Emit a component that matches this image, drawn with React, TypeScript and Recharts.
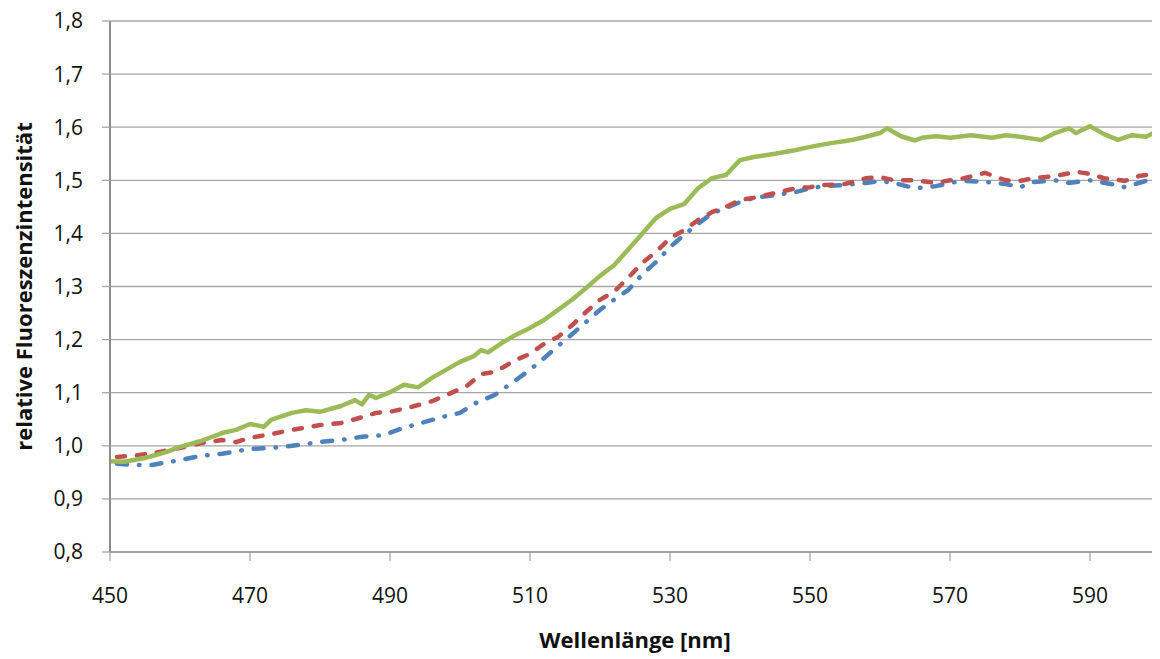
import { LineChart, Line, XAxis, YAxis, CartesianGrid } from 'recharts'

// Wellenlänge [nm] / relative Fluoreszenzintensität
const greenX = [450, 452, 455, 458, 460, 463, 466, 468, 470, 472, 473, 476, 478, 480, 483, 485, 486, 487, 488, 490, 492, 494, 496, 498, 500, 502, 503, 504, 506, 508, 510, 512, 514, 516, 518, 520, 522, 524, 526, 528, 530, 532, 534, 536, 538, 540, 542, 545, 548, 550, 553, 556, 558, 560, 561, 563, 565, 566, 568, 570, 573, 576, 578, 580, 582, 583, 585, 587, 588, 590, 592, 594, 596, 598, 600]
const greenY = [0.971, 0.97, 0.977, 0.988, 0.998, 1.009, 1.024, 1.03, 1.041, 1.036, 1.049, 1.062, 1.067, 1.064, 1.075, 1.086, 1.078, 1.096, 1.09, 1.101, 1.115, 1.11, 1.128, 1.143, 1.158, 1.169, 1.18, 1.176, 1.194, 1.209, 1.222, 1.237, 1.256, 1.275, 1.297, 1.32, 1.34, 1.369, 1.399, 1.429, 1.446, 1.455, 1.485, 1.504, 1.51, 1.538, 1.544, 1.55, 1.557, 1.563, 1.57, 1.576, 1.582, 1.589, 1.598, 1.583, 1.575, 1.58, 1.583, 1.58, 1.585, 1.58, 1.585, 1.582, 1.578, 1.576, 1.589, 1.598, 1.589, 1.602, 1.587, 1.576, 1.585, 1.582, 1.595]

const redX = [451, 453, 456, 460, 463, 466, 468, 470, 473, 476, 480, 483, 485, 488, 490, 493, 496, 499, 501, 503, 505, 508, 510, 512, 514, 516, 518, 520, 522, 524, 526, 528, 530, 532, 534, 536, 538, 540, 542, 545, 548, 550, 552, 555, 558, 560, 562, 565, 568, 570, 572, 575, 578, 580, 582, 585, 588, 590, 592, 595, 597, 600]
const redY = [0.979, 0.981, 0.986, 0.996, 1.005, 1.011, 1.007, 1.015, 1.022, 1.03, 1.039, 1.043, 1.05, 1.062, 1.064, 1.073, 1.084, 1.101, 1.113, 1.135, 1.139, 1.162, 1.173, 1.192, 1.205, 1.227, 1.252, 1.275, 1.29, 1.316, 1.344, 1.365, 1.391, 1.406, 1.425, 1.44, 1.45, 1.463, 1.467, 1.476, 1.485, 1.487, 1.491, 1.493, 1.504, 1.506, 1.5, 1.5, 1.495, 1.5, 1.504, 1.514, 1.5, 1.499, 1.504, 1.508, 1.516, 1.512, 1.504, 1.499, 1.508, 1.514]

const blueX = [451, 453, 456, 460, 463, 466, 470, 473, 476, 480, 483, 486, 489, 492, 495, 498, 500, 502, 505, 508, 510, 512, 514, 516, 518, 520, 522, 524, 526, 528, 530, 532, 534, 536, 538, 540, 542, 545, 548, 550, 552, 555, 558, 560, 562, 565, 568, 570, 572, 575, 578, 580, 582, 585, 587, 590, 593, 595, 598, 600]
const blueY = [0.966, 0.964, 0.964, 0.973, 0.981, 0.985, 0.994, 0.996, 1.0, 1.007, 1.011, 1.017, 1.02, 1.034, 1.045, 1.056, 1.062, 1.079, 1.096, 1.124, 1.143, 1.165, 1.188, 1.21, 1.233, 1.256, 1.275, 1.293, 1.322, 1.346, 1.374, 1.397, 1.418, 1.438, 1.448, 1.459, 1.467, 1.472, 1.478, 1.485, 1.489, 1.491, 1.495, 1.499, 1.495, 1.485, 1.489, 1.495, 1.499, 1.497, 1.493, 1.487, 1.497, 1.5, 1.495, 1.5, 1.493, 1.487, 1.499, 1.495]

const xTicks = [450, 470, 490, 510, 530, 550, 570, 590]
const yTicks = [0.8, 0.9, 1.0, 1.1, 1.2, 1.3, 1.4, 1.5, 1.6, 1.7, 1.8]

const toPoints = (xs: number[], ys: number[]) => xs.map((x, i) => ({ x, y: ys[i] }))

const FONT = '"Open Sans", sans-serif'
const GRID = '#a6a6a6'

export default function App() {
  return (
    <LineChart
      width={1152}
      height={651}
      margin={{ top: 13, right: 0, bottom: 0, left: 0 }}
      style={{ fontFamily: FONT, overflow: 'visible' }}
    >
      <CartesianGrid vertical={false} stroke={GRID} strokeWidth={1.3} />
      <XAxis
        type="number"
        dataKey="x"
        domain={[450, 600]}
        ticks={xTicks}
        allowDataOverflow
        height={107}
        tickSize={9}
        tickMargin={27}
        stroke="#8c8c8c"
        tickLine={{ stroke: '#8c8c8c' }}
        tick={{ fontSize: 21, fill: '#111' }}
        label={{ value: 'Wellenlänge [nm]', position: 'insideBottom', offset: 11, fontSize: 22, fontWeight: 700, fill: '#111' }}
      />
      <YAxis
        type="number"
        dataKey="y"
        domain={[0.8, 1.8]}
        ticks={yTicks}
        allowDataOverflow
        width={102}
        tickSize={8}
        tickMargin={19}
        stroke="#8c8c8c"
        strokeWidth={2}
        tickLine={{ stroke: GRID, strokeWidth: 1.3 }}
        tick={{ fontSize: 21, fill: '#111' }}
        tickFormatter={(v: number) => v.toFixed(1).replace('.', ',')}
        label={{ value: 'relative Fluoreszenzintensität', angle: -90, position: 'insideLeft', offset: 16, fontSize: 22, fontWeight: 700, fill: '#111', style: { textAnchor: 'middle' } }}
      />
      <Line
        data={toPoints(blueX, blueY)}
        dataKey="y"
        type="linear"
        stroke="#4f81bd"
        strokeWidth={4.5}
        strokeDasharray="10 12 0.5 12"
        strokeLinecap="round"
        dot={false}
        isAnimationActive={false}
      />
      <Line
        data={toPoints(redX, redY)}
        dataKey="y"
        type="linear"
        stroke="#c0504d"
        strokeWidth={4.5}
        strokeDasharray="8 12"
        strokeLinecap="round"
        dot={false}
        isAnimationActive={false}
      />
      <Line
        data={toPoints(greenX, greenY)}
        dataKey="y"
        type="linear"
        stroke="#9bbb59"
        strokeWidth={4.5}
        strokeLinejoin="round"
        dot={false}
        isAnimationActive={false}
      />
    </LineChart>
  )
}
